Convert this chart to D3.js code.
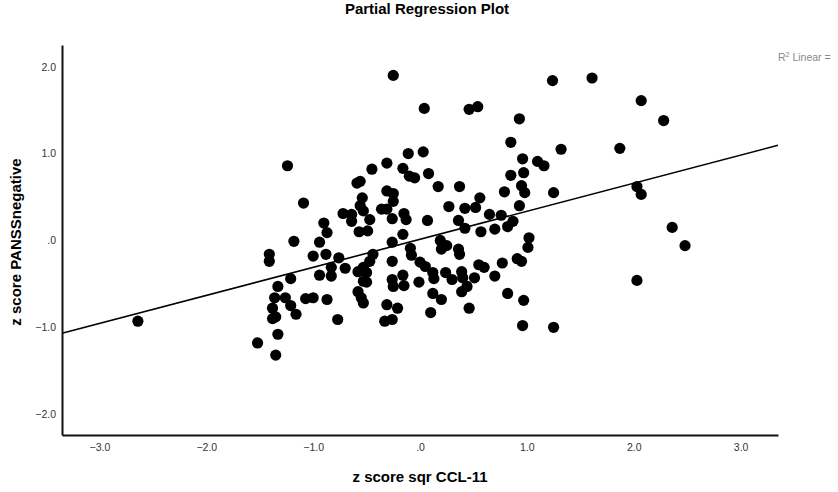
<!DOCTYPE html>
<html>
<head>
<meta charset="utf-8">
<script src="https://cdn.jsdelivr.net/npm/d3@7"></script>
<style>
    body { margin: 0; background: #fff; }
    svg { display: block; }
</style>
</head>
<body>
<svg class="regPlot"></svg>
<script>
// z score sqr CCL-11 (x) vs z score PANSSnegative (y)
const xValues = [
    -2.64, -1.52, -1.41, -1.41, -1.38, -1.38, -1.35, -1.35, -1.33, -1.33,
    -1.36, -1.26, -1.24, -1.21, -1.21, -1.18, -1.16, -1.09, -1.07, -1.00,
    -1.00, -0.94, -0.94, -0.90, -0.87, -0.88, -0.87, -0.83, -0.83, -0.77,
    -0.76, -0.72, -0.70, -0.64, -0.64, -0.59, -0.56, -0.58, -0.58, -0.55,
    -0.53, -0.57, -0.49, -0.56, -0.53, -0.54, -0.53, -0.50, -0.53, -0.50,
    -0.47, -0.47, -0.44, -0.45, -0.36, -0.31, -0.31, -0.25, -0.31, -0.26,
    -0.25, -0.26, -0.31, -0.21, -0.33, -0.26, -0.26, -0.25, -0.16, -0.10,
    -0.05, -0.11, 0.03, 0.08, -0.15, -0.13, -0.16, -0.26, -0.25, -0.16,
    -0.15, -0.09, -0.08, -0.01, 0.00, 0.05, 0.04, 0.07, 0.10, 0.12,
    0.13, 0.12, 0.20, 0.17, 0.19, 0.25, 0.20, 0.36, 0.37, 0.24,
    0.30, 0.27, 0.36, 0.37, 0.39, 0.40, 0.39, 0.44, 0.42, 0.42,
    0.46, 0.54, 0.46, 0.51, 0.52, 0.56, 0.55, 0.60, 0.57, 0.65,
    0.70, 0.70, 0.76, 0.77, 0.79, 0.82, 0.87, 0.82, 0.85, 0.85,
    0.91, 0.95, 0.93, 0.93, 0.95, 0.98, 0.96, 0.97, 0.97, 0.96,
    1.01, 1.02, 1.10, 1.16, 1.24, 1.25, 1.25, 1.32, 1.61, 1.87,
    2.03, 2.07, 2.07, 2.28, 2.36, 2.48, 2.03
];
const yValues = [
    -0.93, -1.18, -0.16, -0.24, -0.78, -0.90, -0.88, -1.32, -0.53, -1.08,
    -0.66, -0.66, 0.86, -0.44, -0.75, -0.01, -0.85, 0.43, -0.67, -0.66,
    -0.18, -0.02, -0.40, 0.20, 0.09, -0.16, -0.68, -0.31, -0.41, -0.91,
    -0.20, 0.31, -0.32, 0.30, 0.22, 0.66, 0.68, -0.36, -0.59, -0.66,
    -0.72, 0.10, 0.11, 0.40, 0.34, 0.49, -0.31, -0.37, -0.47, -0.48,
    0.24, -0.24, -0.16, 0.82, 0.36, 0.89, 0.57, 0.54, 0.36, 0.25,
    0.45, -0.02, -0.74, -0.78, -0.93, -0.91, -0.24, 1.90, 0.83, 0.74,
    0.72, 1.00, 1.02, 0.77, 0.31, 0.24, 0.07, -0.45, -0.53, -0.40,
    -0.52, -0.09, -0.17, -0.48, -0.25, -0.30, 1.52, 0.23, -0.83, -0.37,
    -0.44, -0.61, -0.68, 0.62, 0.00, -0.06, -0.10, -0.10, -0.16, -0.37,
    -0.45, 0.39, 0.23, 0.62, -0.36, -0.43, -0.59, -0.53, 0.37, 0.14,
    1.51, 1.54, -0.78, -0.43, 0.38, 0.49, -0.28, -0.31, 0.10, 0.30,
    0.13, -0.41, 0.29, -0.26, 0.56, 0.16, 0.22, -0.61, 1.13, 0.75,
    -0.21, -0.24, 0.40, 1.40, 0.63, 0.55, 0.94, 0.78, -0.69, -0.98,
    -0.08, 0.03, 0.91, 0.86, 1.84, 0.55, -1.00, 1.05, 1.87, 1.06,
    0.62, 0.53, 1.61, 1.38, 0.15, -0.06, -0.46
];
const xTicks = [-3, -2, -1, 0, 1, 2, 3];
const yTicks = [-2, -1, 0, 1, 2];
const xDomain = [-3.35, 3.35];
const yDomain = [-2.24, 2.25];
// fit line drawn on the plot
const fitSlope = 0.323;
const fitIntercept = 0.013;

class PartialPlot {
    constructor(xs, ys) {
        this.points = xs.map((x, i) => ({x: x, y: ys[i]}));
        this.margin = {top: 45, right: 60, bottom: 57, left: 62};
        this.width = 838;
        this.height = 492;
    }

    tickText(v) {
        let s = d3.format(".1f")(v);
        return s === "0.0" ? ".0" : s;
    }

    draw() {
        let m = this.margin;
        let svg = d3.select(".regPlot")
            .attr("width", this.width)
            .attr("height", this.height)
            .style("font-family", "Arial, 'Liberation Sans', sans-serif");

        let xScale = d3.scaleLinear().domain(xDomain).range([m.left, this.width - m.right]);
        let yScale = d3.scaleLinear().domain(yDomain).range([this.height - m.bottom, m.top]);

        // regression line across the whole x range
        svg.append("line")
            .attr("x1", xScale(xDomain[0]))
            .attr("y1", yScale(fitIntercept + fitSlope * xDomain[0]))
            .attr("x2", xScale(xDomain[1]))
            .attr("y2", yScale(fitIntercept + fitSlope * xDomain[1]))
            .attr("stroke", "#000")
            .attr("stroke-width", 1.6);

        svg.append("g")
            .selectAll(".dot")
            .data(this.points)
            .join("circle")
            .attr("class", "dot")
            .attr("cx", d => xScale(d.x))
            .attr("cy", d => yScale(d.y))
            .attr("r", 5.6)
            .attr("fill", "#000");

        // axes: no tick marks, just labels
        let xAxis = d3.axisBottom(xScale).tickValues(xTicks).tickSize(0).tickPadding(9)
            .tickFormat(d => this.tickText(d));
        let yAxis = d3.axisLeft(yScale).tickValues(yTicks).tickSize(0).tickPadding(6)
            .tickFormat(d => this.tickText(d));

        let gx = svg.append("g")
            .attr("transform", `translate(0,${this.height - m.bottom})`)
            .call(xAxis);
        let gy = svg.append("g")
            .attr("transform", `translate(${m.left},0)`)
            .call(yAxis);

        [gx, gy].forEach(g => {
            g.select(".domain").attr("stroke", "#111").attr("stroke-width", 2);
            g.selectAll("text")
                .attr("fill", "#333")
                .style("font-size", "10.5px")
                .style("font-family", "Arial, 'Liberation Sans', sans-serif");
        });

        svg.append("text")
            .attr("x", 427)
            .attr("y", 14)
            .attr("text-anchor", "middle")
            .style("font-size", "15px")
            .style("font-weight", "bold")
            .text("Partial Regression Plot");

        svg.append("text")
            .attr("x", 420)
            .attr("y", 482)
            .attr("text-anchor", "middle")
            .style("font-size", "15px")
            .style("font-weight", "bold")
            .text("z score sqr CCL-11");

        svg.append("text")
            .attr("transform", "translate(21,242) rotate(-90)")
            .attr("text-anchor", "middle")
            .style("font-size", "15px")
            .style("font-weight", "bold")
            .text("z score PANSSnegative");

        let r2 = svg.append("text")
            .attr("x", 778)
            .attr("y", 61)
            .attr("fill", "#888")
            .style("font-size", "10.5px");
        r2.append("tspan").text("R");
        r2.append("tspan").attr("dy", -4).style("font-size", "7px").text("2");
        r2.append("tspan").attr("dy", 4).text(" Linear =");
    }
}

new PartialPlot(xValues, yValues).draw();
</script>
</body>
</html>
